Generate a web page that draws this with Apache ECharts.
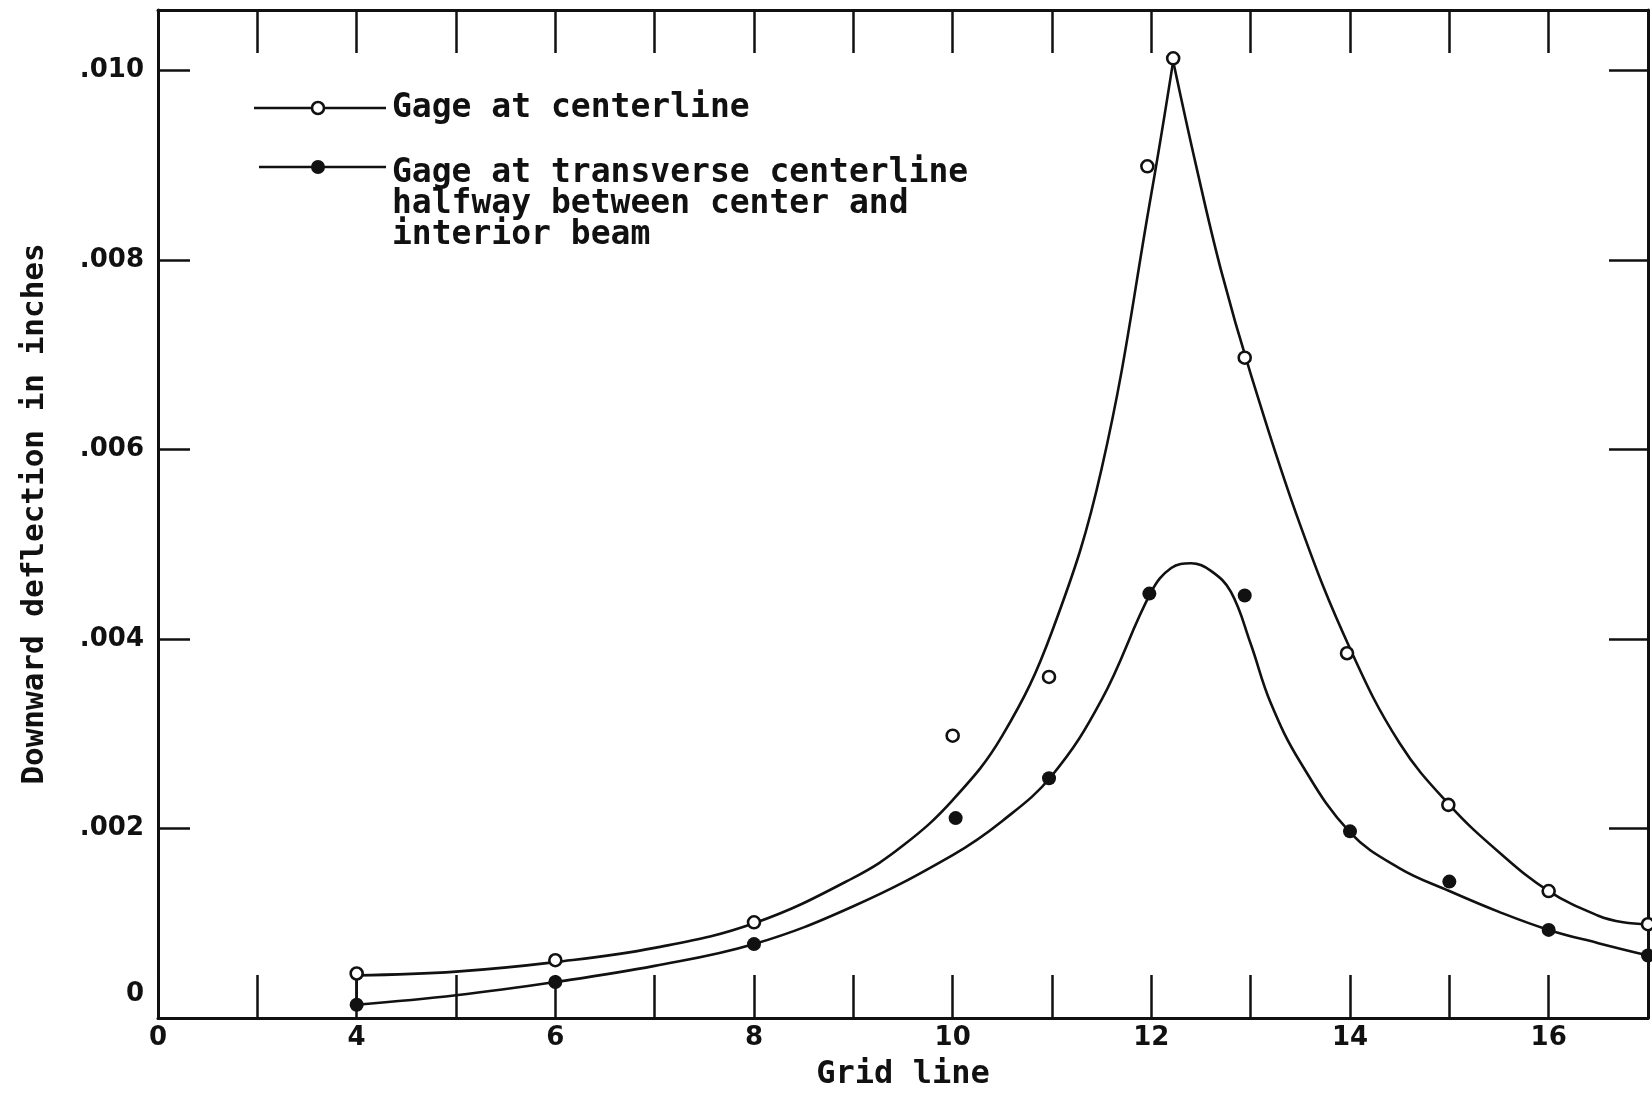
<!DOCTYPE html>
<html>
<head>
<meta charset="utf-8">
<script src="https://cdn.jsdelivr.net/npm/echarts@6/dist/echarts.min.js"></script>
<style>
html,body{margin:0;padding:0;background:#fff;overflow:hidden;}
#chart{width:1652px;height:1093px;}
</style>
</head>
<body>
<div id="chart"></div>
<script>
// ---- data ----
const xTickValues = [2, 4, 6, 8, 10, 12, 14, 16];
const xTickLabels = ['0', '4', '6', '8', '10', '12', '14', '16'];
const yTickValues = [0, 0.002, 0.004, 0.006, 0.008, 0.010];
const yTickLabels = ['0', '.002', '.004', '.006', '.008', '.010'];

const seriesNames = ['Gage at centerline',
  'Gage at transverse centerline\nhalfway between center and\ninterior beam'];

// measured points, gage at centerline (open circles)
const openX = [4, 6, 8, 10, 10.97, 11.96, 12.22, 12.94, 13.97, 14.99, 16, 17];
const openY = [0.00047, 0.00061, 0.00101, 0.00298, 0.00360, 0.00899, 0.01013, 0.00697, 0.00385, 0.00225, 0.00134, 0.00099];
// fitted curve, gage at centerline: rising branch and falling branch (cusp at the peak)
const openRiseX = [4, 5, 6, 7, 8, 9, 9.5, 10, 10.5, 11, 11.5, 12.0, 12.22];
const openRiseY = [0.00045, 0.00049, 0.00059, 0.00074, 0.00100, 0.00148, 0.00182, 0.00230, 0.00298, 0.00408, 0.00580, 0.00870, 0.01010];
const openFallX = [12.22, 12.45, 12.7, 13, 13.5, 14, 14.5, 15, 15.5, 16, 16.5, 16.75, 17];
const openFallY = [0.01010, 0.00900, 0.00790, 0.00680, 0.00520, 0.00390, 0.00290, 0.00225, 0.00175, 0.00134, 0.00108, 0.00101, 0.00099];

// measured points, gage halfway (filled circles)
const filledX = [4, 6, 8, 10.03, 10.97, 11.98, 12.94, 14, 15, 16, 17];
const filledY = [0.00014, 0.00038, 0.00078, 0.00211, 0.00253, 0.00448, 0.00446, 0.00197, 0.00144, 0.00093, 0.00066];
// fitted curve, gage halfway
const filledCurveX = [4, 5, 6, 7, 8, 9, 10, 10.5, 11, 11.5, 12, 12.2, 12.4, 12.6, 12.8, 13.0, 13.2, 13.5, 14, 14.5, 15, 15.5, 16, 16.5, 17];
const filledCurveY = [0.00014, 0.00024, 0.00038, 0.00055, 0.00078, 0.00118, 0.00172, 0.00208, 0.00256, 0.00336, 0.00450, 0.00475, 0.00480, 0.00472, 0.00450, 0.00395, 0.00333, 0.00270, 0.00196, 0.00158, 0.00134, 0.00112, 0.00093, 0.00079, 0.00066];

// vertical connector at grid line 4
const connectorX = [4, 4];
const connectorY = [0.00014, 0.00045];

const zip = (xs, ys) => xs.map((x, i) => [x, ys[i]]);

const INK = '#111';
const monoFont = '"DejaVu Sans Mono", monospace';
const sansFont = '"DejaVu Sans", sans-serif';

const chart = echarts.init(document.getElementById('chart'), null, {renderer: 'canvas', width: 1652, height: 1093});

function xLabel(v) {
  const i = xTickValues.findIndex(t => Math.abs(t - v) < 1e-6);
  return i < 0 ? '' : xTickLabels[i];
}
function yLabel(v) {
  const i = yTickValues.findIndex(t => Math.abs(t - v) < 1e-9);
  if (i < 0) return '';
  return i === 0 ? '{z|' + yTickLabels[i] + '}' : yTickLabels[i];
}

const axisLineStyle = {color: INK, width: 3};
const xCommon = {type: 'value', min: 2, max: 17, interval: 1, splitLine: {show: false}};
const yCommon = {type: 'value', min: 0, max: 0.01064, interval: 0.002, splitLine: {show: false}};
const curveStyle = {color: INK, width: 2.6};

const option = {
  backgroundColor: '#fff',
  animation: false,
  grid: {left: 158, right: 4, top: 10, bottom: 75, containLabel: false, outerBoundsMode: 'none'},
  xAxis: [
    Object.assign({}, xCommon, {
      position: 'bottom',
      name: 'Grid line', nameLocation: 'middle', nameGap: 41,
      nameTextStyle: {fontFamily: monoFont, fontWeight: 'bold', fontSize: 32, color: INK},
      axisLine: {show: true, onZero: false, lineStyle: axisLineStyle},
      axisTick: {show: true, inside: true, length: 43, lineStyle: {color: INK, width: 2.5}},
      axisLabel: {show: true, formatter: xLabel, margin: 7, fontFamily: sansFont, fontWeight: 'bold', fontSize: 26, color: INK, showMaxLabel: true}
    }),
    Object.assign({}, xCommon, {
      position: 'top',
      axisLine: {show: true, onZero: false, lineStyle: axisLineStyle},
      axisTick: {show: true, inside: true, length: 43, lineStyle: {color: INK, width: 2.5}},
      axisLabel: {show: false}
    })
  ],
  yAxis: [
    Object.assign({}, yCommon, {
      position: 'left',
      name: 'Downward deflection in inches', nameLocation: 'middle', nameGap: 108, nameRotate: 90,
      nameTextStyle: {fontFamily: monoFont, fontWeight: 'bold', fontSize: 31, color: INK},
      axisLine: {show: true, onZero: false, lineStyle: axisLineStyle},
      axisTick: {show: true, inside: true, length: 32, lineStyle: {color: INK, width: 2.5}},
      axisLabel: {show: true, formatter: yLabel, margin: 14, fontFamily: sansFont, fontWeight: 'bold', fontSize: 26, color: INK,
        showMaxLabel: false,
        rich: {z: {fontFamily: sansFont, fontWeight: 'bold', fontSize: 26, color: INK, padding: [0, 0, 48, 0]}}}
    }),
    Object.assign({}, yCommon, {
      position: 'right',
      axisLine: {show: true, onZero: false, lineStyle: axisLineStyle},
      axisTick: {show: true, inside: true, length: 39, lineStyle: {color: INK, width: 2.5}},
      axisLabel: {show: false}
    })
  ],
  series: [
    {
      name: seriesNames[0] + ' curve (rise)', type: 'line', data: zip(openRiseX, openRiseY),
      smooth: 0.4, showSymbol: false, symbol: 'none', lineStyle: curveStyle, z: 2
    },
    {
      name: seriesNames[0] + ' curve (fall)', type: 'line', data: zip(openFallX, openFallY),
      smooth: 0.4, showSymbol: false, symbol: 'none', lineStyle: curveStyle, z: 2
    },
    {
      name: seriesNames[1] + ' curve', type: 'line', data: zip(filledCurveX, filledCurveY),
      smooth: 0.4, showSymbol: false, symbol: 'none', lineStyle: curveStyle, z: 2
    },
    {
      name: 'connector', type: 'line', data: zip(connectorX, connectorY),
      showSymbol: false, symbol: 'none', lineStyle: curveStyle, z: 2
    },
    {
      name: seriesNames[0], type: 'scatter', data: zip(openX, openY),
      symbol: 'circle', symbolSize: 12,
      itemStyle: {color: '#fff', borderColor: INK, borderWidth: 2.6, opacity: 1}, z: 3
    },
    {
      name: seriesNames[1], type: 'scatter', data: zip(filledX, filledY),
      symbol: 'circle', symbolSize: 14,
      itemStyle: {color: INK, borderColor: INK, borderWidth: 0, opacity: 1}, z: 3
    }
  ],
  graphic: [
    {type: 'line', shape: {x1: 254, y1: 108, x2: 386, y2: 108}, style: {stroke: INK, lineWidth: 2.6}},
    {type: 'circle', shape: {cx: 318, cy: 108, r: 6}, style: {fill: '#fff', stroke: INK, lineWidth: 2.6}},
    {type: 'text', left: 392, top: 92,
      style: {text: seriesNames[0], fontFamily: monoFont, fontWeight: 'bold', fontSize: 33, fill: INK, lineHeight: 31}},
    {type: 'line', shape: {x1: 259, y1: 167, x2: 386, y2: 167}, style: {stroke: INK, lineWidth: 2.6}},
    {type: 'circle', shape: {cx: 318, cy: 167, r: 7}, style: {fill: INK, stroke: INK, lineWidth: 0}},
    {type: 'text', left: 392, top: 157,
      style: {text: seriesNames[1], fontFamily: monoFont, fontWeight: 'bold', fontSize: 33, fill: INK, lineHeight: 31}}
  ]
};
chart.setOption(option);
</script>
</body>
</html>
